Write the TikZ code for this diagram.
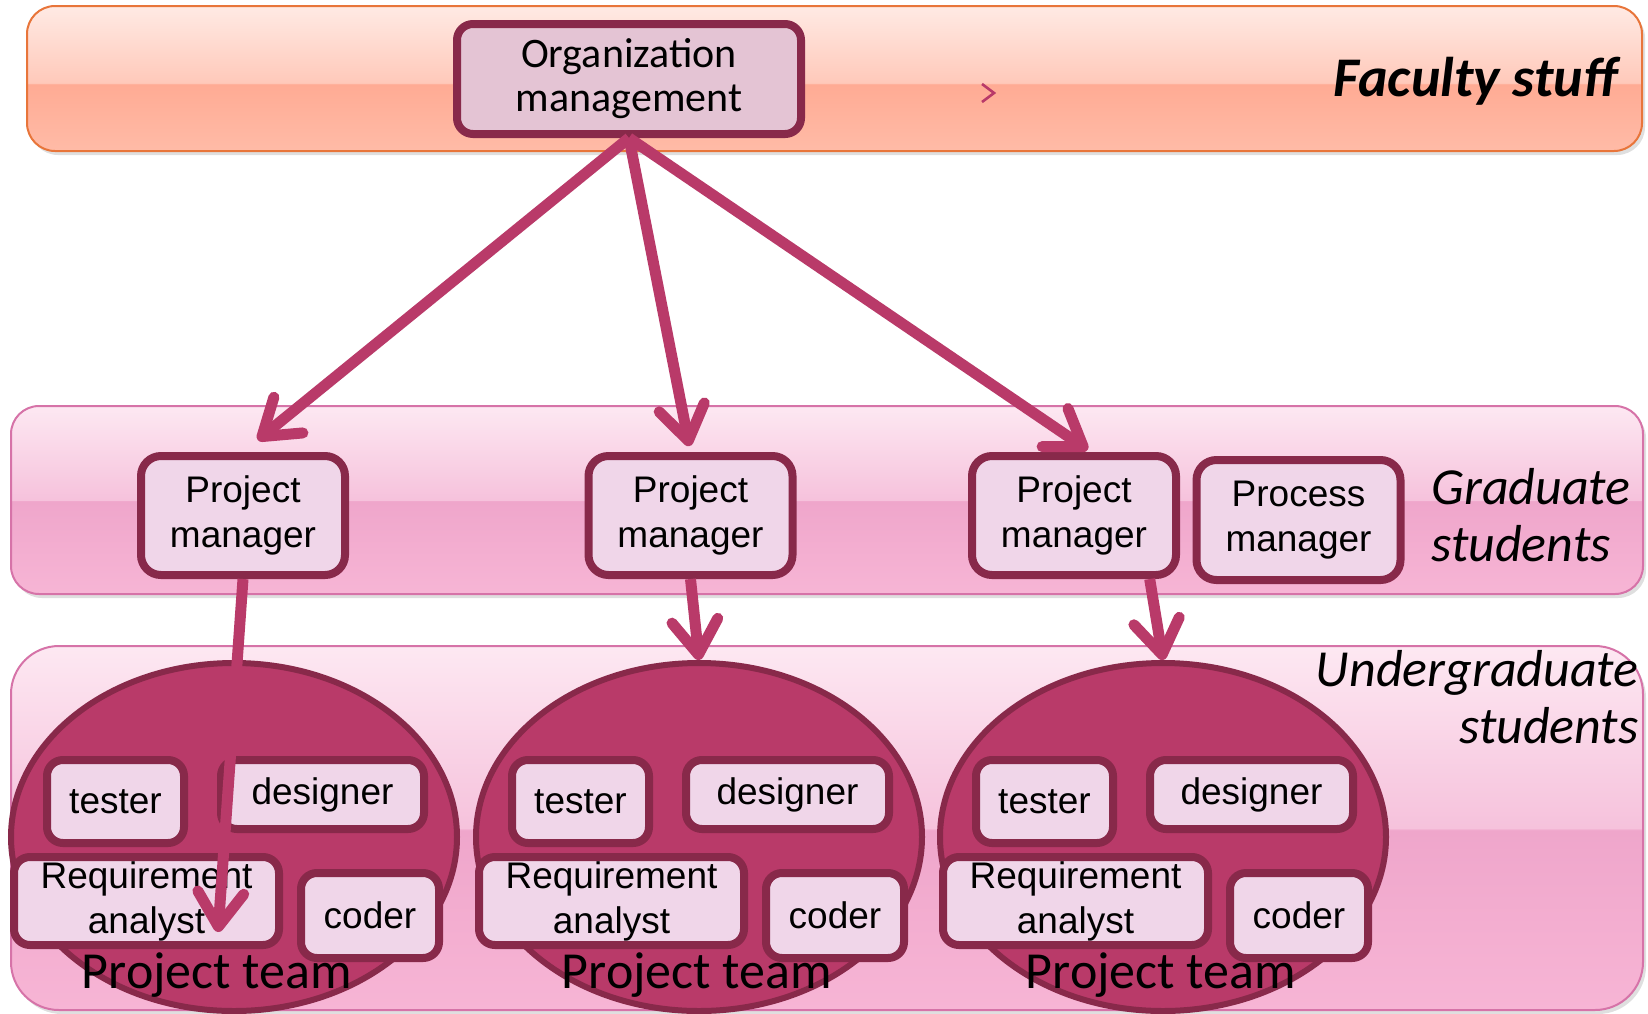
\documentclass[tikz,border=0pt]{standalone}
\usepackage{fontspec}
\setmainfont{Liberation Sans}
\newfontfamily\bandfont{Carlito}
\usetikzlibrary{arrows.meta,shapes.geometric,shadows}

\definecolor{raspberry}{RGB}{185,58,105}
\definecolor{plum}{RGB}{136,41,74}
\definecolor{boxpink}{RGB}{240,214,233}
\definecolor{orgpink}{RGB}{228,196,212}
\definecolor{facedge}{RGB}{232,117,58}
\definecolor{fac1}{RGB}{255,234,228}
\definecolor{fac2}{RGB}{255,201,186}
\definecolor{fac3}{RGB}{255,171,148}
\definecolor{fac4}{RGB}{255,187,167}
\definecolor{studedge}{RGB}{214,115,168}
\definecolor{stu1}{RGB}{253,232,242}
\definecolor{stu2}{RGB}{246,194,220}
\definecolor{stu3}{RGB}{239,166,203}
\definecolor{stu4}{RGB}{247,181,213}

\pgfdeclareverticalshading{facultyglow}{100bp}{color(0bp)=(fac4); color(25bp)=(fac4); color(48bp)=(fac3); color(48.5bp)=(fac2); color(75bp)=(fac1); color(100bp)=(fac1)}
\pgfdeclareverticalshading{studentglow}{100bp}{color(0bp)=(stu4); color(25bp)=(stu4); color(49.7bp)=(stu3); color(50bp)=(stu2); color(75bp)=(stu1); color(100bp)=(stu1)}

\begin{document}
\begin{tikzpicture}[x=0.5pt,y=0.5pt,
  band/.style={draw, line width=1pt, rounded corners=14pt, shade, drop shadow={opacity=0.25,shadow xshift=1.5pt,shadow yshift=-2pt}},
  role/.style={draw=plum, fill=boxpink, line width=4pt, rounded corners=10pt, align=center, inner sep=0pt, font=\fontsize{18.5}{22.5}\selectfont},
  member/.style={role, rounded corners=8pt},
  team/.style={ellipse, draw=plum, fill=raspberry, line width=3pt, inner sep=0pt, minimum width=223pt, minimum height=174pt},
  teamname/.style={font=\bandfont\fontsize{26}{28}\selectfont, inner sep=0pt},
  bandlabel/.style={align=right, anchor=east, inner sep=0pt},
  link/.style={draw=raspberry, line width=5.5pt, -{Straight Barb[length=17pt,width=23pt,round]}}]
\useasboundingbox (0,0) rectangle (1648,-1013);
% the three layers
\node[band, draw=facedge, shading=facultyglow, minimum width=807.5pt, minimum height=72.5pt] (faculty) at (834.5,-78.5) {};
\node[band, draw=studedge, shading=studentglow, minimum width=816pt, minimum height=94pt] (grad) at (827,-500) {};
\node[band, draw=studedge, shading=studentglow, rounded corners=24pt, minimum width=816pt, minimum height=182pt] (undergrad) at (827,-828) {};
\draw [raspberry, line width=1.3pt] (982,-84) -- (994,-93) -- (982,-102);
% managers
\node[role, fill=orgpink, font=\bandfont\fontsize{21}{22}\selectfont, rounded corners=8pt, minimum width=172pt, minimum height=55pt] (org) at (629,-79) {Organization\\management};
\node[role, minimum width=102pt, minimum height=59.5pt] (pm1) at (243,-515.5) {Project\\manager};
\node[role, minimum width=102pt, minimum height=59.5pt] (pm2) at (690.5,-515.5) {Project\\manager};
\node[role, minimum width=102pt, minimum height=59.5pt] (pm3) at (1074,-515.5) {Project\\manager};
\node[role, minimum width=102pt, minimum height=60pt] (proc) at (1298.5,-520) {Process\\manager};
% teams
\node[team] (team1) at (234,-837) {};
\node[team] (team2) at (699,-837) {};
\node[team] (team3) at (1163,-837) {};
\node[member, minimum width=68.5pt, minimum height=41.5pt] (tester1) at (115.5,-801.5) {tester};
\node[member, minimum width=101.5pt, minimum height=34.5pt] (designer1) at (322.5,-794.5) {designer};
\node[member, minimum width=132.5pt, minimum height=44pt] (req1) at (146.5,-901) {Requirement\\analyst};
\node[member, minimum width=69pt, minimum height=42.5pt] (coder1) at (370,-915.5) {coder};
\node[member, minimum width=68.5pt, minimum height=41.5pt] (tester2) at (580.5,-801.5) {tester};
\node[member, minimum width=101.5pt, minimum height=34.5pt] (designer2) at (787.5,-794.5) {designer};
\node[member, minimum width=132.5pt, minimum height=44pt] (req2) at (611.5,-901) {Requirement\\analyst};
\node[member, minimum width=69pt, minimum height=42.5pt] (coder2) at (835,-915.5) {coder};
\node[member, minimum width=68.5pt, minimum height=41.5pt] (tester3) at (1044.5,-801.5) {tester};
\node[member, minimum width=101.5pt, minimum height=34.5pt] (designer3) at (1251.5,-794.5) {designer};
\node[member, minimum width=132.5pt, minimum height=44pt] (req3) at (1075.5,-901) {Requirement\\analyst};
\node[member, minimum width=69pt, minimum height=42.5pt] (coder3) at (1299,-915.5) {coder};
\node[teamname] (team1lbl) at (217,-975) {Project team};
\node[teamname] (team2lbl) at (697,-975) {Project team};
\node[teamname] (team3lbl) at (1161,-975) {Project team};
% layer names
\node[bandlabel, font=\bandfont\bfseries\itshape\fontsize{28}{30}\selectfont] (facultylbl) at (1617,-81) {Faculty stuff};
\node[bandlabel, align=left, anchor=west, font=\bandfont\itshape\fontsize{26}{28.5}\selectfont] (gradlbl) at (1431,-515) {Graduate\\students};
\node[bandlabel, font=\bandfont\itshape\fontsize{26}{28.5}\selectfont] (undergradlbl) at (1639,-697) {Undergraduate\\students};
% arrows
\coordinate (pm1tip) at (218,-932);
\draw[link, shorten >=9.5pt] (org.south) -- (pm1.north);
\draw[link, shorten >=3pt] (org.south) -- (pm2.north);
\draw[link, shorten >=2pt] (org.south) -- (pm3.75);
\draw[link] (pm1.south) -- (pm1tip);
\draw[link] (pm2.south) -- (team2.north);
\draw[link] (pm3.-40) -- (team3.north);
\end{tikzpicture}
\end{document}
